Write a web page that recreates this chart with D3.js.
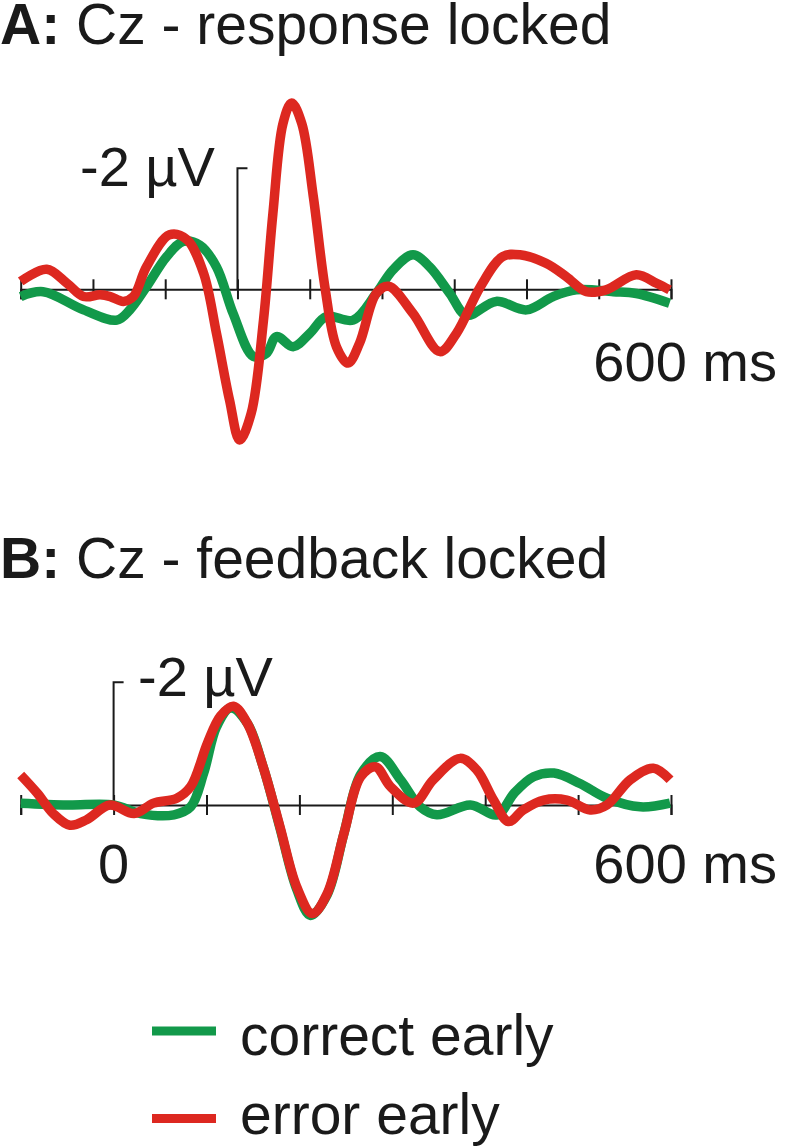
<!DOCTYPE html>
<html>
<head>
<meta charset="utf-8">
<script src="https://cdn.jsdelivr.net/npm/d3@7"></script>
<style>
  html, body { margin: 0; padding: 0; background: #fff; }
  svg { display: block; }
  text { font-family: "Liberation Sans", Arial, sans-serif; fill: #1a1a1a; }
</style>
</head>
<body>
<svg id="chart" width="785" height="1148"></svg>
<script>
// ---------- DATA ----------
// Panel A: response locked (time in ms, amplitude in µV; negative plotted up)
const timesA_error = [-300,-264,-236,-213,-190,-176,-158,-144,-126,-94,-70,-47,-29,-11,3,19,36,49,63,75,89,105,121,137,153,169,192,209,243,280,303,336,367,391,427,455,483,510,552,580,598];
const valuesA_error = [-0.13,-0.33,-0.10,0.12,0.09,0.12,0.20,0.12,-0.37,-0.90,-0.82,-0.27,0.73,1.83,2.49,2.05,0.51,-1.25,-2.74,-3.08,-2.74,-1.53,-0.04,0.95,1.22,0.89,0.07,-0.05,0.40,1.03,0.73,-0.04,-0.54,-0.57,-0.43,-0.21,0.04,0.01,-0.24,-0.10,0.01];
const timesA_correct = [-300,-269,-213,-167,-149,-126,-98,-75,-52,-29,-6,22,40,54,77,100,123,160,192,215,243,266,294,317,358,400,437,469,520,552,598];
const valuesA_correct = [0.12,0.04,0.34,0.51,0.34,-0.04,-0.54,-0.79,-0.73,-0.37,0.40,1.11,1.06,0.78,0.95,0.73,0.45,0.51,0.07,-0.32,-0.57,-0.37,0.07,0.43,0.20,0.34,0.12,0.01,0.04,0.07,0.23];

// Panel B: feedback locked
const timesB_error = [-100,-82,-65,-47,-29,-4,22,43,68,83,101,115,129,144,161,179,197,214,230,248,266,282,298,323,344,373,391,409,425,441,463,488,513,531,556,581,599];
const valuesB_error = [-0.49,-0.19,0.14,0.33,0.24,0.00,0.14,-0.03,-0.11,-0.30,-1.01,-1.45,-1.61,-1.33,-0.62,0.35,1.33,1.77,1.44,0.46,-0.46,-0.62,-0.30,-0.03,-0.41,-0.76,-0.57,-0.08,0.27,0.08,-0.08,-0.08,0.08,0.00,-0.41,-0.60,-0.41];
const timesB_correct = [-100,-50,0,29,65,83,97,111,126,144,161,179,197,212,230,248,266,287,309,330,348,384,413,431,452,474,502,531,567,599];
const valuesB_correct = [-0.03,0.00,0.00,0.14,0.16,0.03,-0.52,-1.28,-1.58,-1.33,-0.62,0.37,1.37,1.80,1.46,0.46,-0.50,-0.79,-0.41,0.03,0.16,0.00,0.16,-0.19,-0.46,-0.52,-0.35,-0.11,0.03,-0.03];

const ticksA = [-300,-200,-100,0,100,200,300,400,500,600];
const ticksB = [-100,0,100,200,300,400,500,600];

const seriesNames = ["correct early", "error early"];
const seriesColors = ["#12994a", "#dd2820"];

const titleA = ["A:", " Cz - response locked"];
const titleB = ["B:", " Cz - feedback locked"];
const scaleLabel = "-2 \u00B5V";
const endLabel = "600 ms";
const zeroLabel = "0";

// ---------- DRAW ----------
const svg = d3.select("#chart");
svg.append("rect").attr("width", 785).attr("height", 1148).attr("fill", "#fff");

const FS = 56;
const ink = "#1a1a1a";

function zip(t, v) { return t.map((d, i) => ({ t: d, v: v[i] })); }

function panel(cfg) {
  const x = d3.scaleLinear().domain(cfg.xDomain).range([20.7, 671]);
  const y = d3.scaleLinear().domain([-2, 0]).range(cfg.yRange);
  const g = svg.append("g");

  // title
  const tt = g.append("text").attr("x", 0).attr("y", cfg.titleY).attr("font-size", 57);
  tt.append("tspan").attr("font-weight", "bold").text(cfg.title[0]);
  tt.append("tspan").text(cfg.title[1]);

  // axis
  const axis = d3.axisBottom(x).tickValues(cfg.ticks).tickFormat("").tickSizeOuter(0).tickSize(10);
  const ag = g.append("g").attr("transform", `translate(0,${y(0)})`).call(axis);
  ag.select(".domain").attr("stroke", ink).attr("stroke-width", 2);
  ag.selectAll(".tick line").attr("stroke", ink).attr("stroke-width", 2).attr("y1", -10).attr("y2", 10);

  // scale bar at time 0
  const x0 = x(0);
  g.append("path")
    .attr("d", `M${x0},${y(0)}V${y(-2)}H${x0 + 10}`)
    .attr("fill", "none").attr("stroke", ink).attr("stroke-width", 2);

  // curves
  const line = d3.line().x(d => x(d.t)).y(d => y(d.v)).curve(d3.curveCatmullRom.alpha(0.5));
  cfg.series.forEach((s, i) => {
    g.append("path").datum(zip(s[0], s[1]))
      .attr("d", line)
      .attr("fill", "none")
      .attr("stroke", seriesColors[i])
      .attr("stroke-width", 9.5)
      .attr("stroke-linejoin", "round");
  });

  // labels
  g.append("text").attr("x", cfg.scaleLabelX).attr("y", cfg.scaleLabelY).attr("font-size", FS).text(scaleLabel);
  g.append("text").attr("x", 777).attr("y", cfg.endLabelY).attr("font-size", FS).attr("text-anchor", "end").text(endLabel);
  if (cfg.zero) {
    g.append("text").attr("x", x0).attr("y", cfg.endLabelY).attr("font-size", FS).attr("text-anchor", "middle").text(zeroLabel);
  }
}

panel({
  xDomain: [-300, 600], yRange: [168.3, 289.3], ticks: ticksA,
  title: titleA, titleY: 44,
  series: [[timesA_correct, valuesA_correct], [timesA_error, valuesA_error]],
  scaleLabelX: 80, scaleLabelY: 186, endLabelY: 381, zero: false
});

panel({
  xDomain: [-100, 600], yRange: [682.3, 805], ticks: ticksB,
  title: titleB, titleY: 578,
  series: [[timesB_correct, valuesB_correct], [timesB_error, valuesB_error]],
  scaleLabelX: 138, scaleLabelY: 696, endLabelY: 883, zero: true
});

// legend
const legY = [1031, 1118.5];
const legTextY = [1055, 1134];
seriesNames.forEach((n, i) => {
  svg.append("line").attr("x1", 152).attr("x2", 216).attr("y1", legY[i]).attr("y2", legY[i])
    .attr("stroke", seriesColors[i]).attr("stroke-width", 9);
  svg.append("text").attr("x", 240).attr("y", legTextY[i]).attr("font-size", 57).text(n);
});
</script>
</body>
</html>
